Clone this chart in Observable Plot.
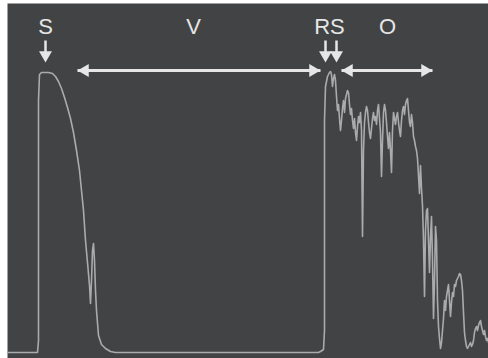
<!DOCTYPE html>
<html>
<head>
<meta charset="utf-8">
<script src="https://cdn.jsdelivr.net/npm/d3@7"></script>
<script src="https://cdn.jsdelivr.net/npm/@observablehq/plot@0.6"></script>
<style>
  html, body { margin: 0; padding: 0; background: #ffffff; }
  #chart svg { display: block; }
</style>
</head>
<body>
<div id="chart"></div>
<script>
// Signal trace: time (arbitrary units) and amplitude (arbitrary units)
const time = [
  0, 30, 31, 31, 32, 34, 41, 45, 48, 51, 54, 57, 60, 63, 66, 69, 72, 74, 76, 78,
  80, 82, 83, 84, 85, 86, 87, 88, 89, 91, 94, 98, 103, 108, 311, 313, 316, 317, 317, 318,
  320, 322, 323, 324, 325, 326, 327, 328, 329, 330, 331, 332, 333, 334, 335, 336, 337, 338, 339, 340,
  341, 342, 343, 344, 345, 346, 347, 348, 349, 350, 351, 352, 353, 354, 355, 356, 357, 358, 359, 360,
  361, 362, 363, 364, 365, 366, 367, 368, 369, 370, 371, 372, 373, 374, 375, 376, 377, 378, 379, 380,
  381, 382, 383, 384, 385, 386, 387, 388, 389, 390, 391, 392, 393, 394, 395, 396, 397, 398, 399, 400,
  401, 402, 403, 404, 405, 406, 407, 408, 409, 410, 411, 412, 413, 414, 415, 416, 417, 418, 419, 420,
  421, 422, 423, 424, 425, 426, 427, 428, 429, 430, 431, 432, 433, 434, 435, 436, 437, 438, 439, 440,
  441, 442, 443, 444, 445, 446, 447, 448, 449, 450, 451, 452, 453, 454, 455, 456, 457, 458, 459, 460,
  461, 462, 463, 464, 465, 466, 467, 468, 469, 470, 471, 472, 473, 474, 475, 476, 477, 478, 479, 480, 481
];
const amplitude = [
  0, 0, 12, 252, 278, 280, 280, 279, 276, 271, 264, 255, 245, 234, 220, 202, 182, 162, 142, 112,
  90, 67, 49, 72, 102, 109, 92, 62, 42, 17, 8, 4, 1, 0, 0, 1, 3, 22, 232, 266,
  276, 280, 281, 278, 266, 274, 278, 272, 256, 242, 248, 234, 222, 232, 244, 252, 240, 254, 258, 262,
  260, 248, 238, 244, 232, 224, 234, 220, 212, 226, 236, 230, 240, 222, 116, 202, 230, 240, 246, 242,
  230, 220, 214, 224, 234, 240, 232, 236, 228, 242, 248, 234, 220, 176, 212, 240, 248, 242, 230, 216,
  204, 220, 202, 180, 222, 240, 234, 228, 236, 240, 230, 222, 216, 232, 242, 246, 238, 248, 252, 254,
  242, 230, 226, 238, 230, 216, 212, 206, 202, 194, 177, 159, 187, 164, 147, 112, 56, 122, 142, 144,
  112, 80, 116, 136, 92, 34, 72, 126, 112, 52, 26, 14, 4, 10, 22, 34, 52, 42, 56, 62,
  68, 52, 36, 50, 60, 56, 68, 66, 72, 74, 76, 79, 78, 72, 62, 40, 20, 12, 6, 4,
  6, 8, 10, 6, 8, 12, 20, 24, 26, 22, 27, 30, 32, 26, 22, 18, 22, 16, 12, 14, 10
];

// Annotations
const labelText = ["S", "V", "RS", "O"];
const labelTime = [38, 186, 322, 380];
const labelLevel = 326;

const downArrowTime = [38, 318, 329];
const downArrowTop = 312;
const downArrowStemEnd = 298;
const downArrowTip = 290;

const spanName = ["V", "O"];
const spanStart = [70, 334];
const spanEnd = [313, 425];
const spanLevel = 282;

const signal = time.map((t, i) => ({t, a: amplitude[i]}));
const labels = labelText.map((s, i) => ({s, t: labelTime[i], a: labelLevel}));
const downs = downArrowTime.map(t => ({t, a1: downArrowTop, a2: downArrowStemEnd, tip: downArrowTip}));
const spans = spanName.map((n, i) => ({n, t1: spanStart[i], t2: spanEnd[i], a: spanLevel}));

const ink = "#e6e6e6";
const head = 4.8;   // triangle head "radius"
const off = 7.5;    // centroid offset from tip (px)

const chart = Plot.plot({
  width: 488,
  height: 358,
  marginLeft: 7,
  marginRight: 0,
  marginTop: 3,
  marginBottom: 0,
  x: {domain: [0, 481], axis: null},
  y: {domain: [-6, 349], axis: null},
  style: {background: "#ffffff"},
  marks: [
    Plot.frame({fill: "#424345", stroke: null}),
    Plot.line(signal, {x: "t", y: "a", stroke: "#ababad", strokeWidth: 1.6, strokeLinejoin: "round", curve: "linear"}),
    // horizontal double arrows
    Plot.link(spans, {x1: "t1", x2: "t2", y1: "a", y2: "a", stroke: ink, strokeWidth: 3}),
    Plot.dot(spans, {x: "t1", y: "a", symbol: "triangle", r: head, rotate: -90, fill: ink, stroke: null, dx: off}),
    Plot.dot(spans, {x: "t2", y: "a", symbol: "triangle", r: head, rotate: 90, fill: ink, stroke: null, dx: -off}),
    // down arrows
    Plot.link(downs, {x1: "t", x2: "t", y1: "a1", y2: "a2", stroke: ink, strokeWidth: 2.5}),
    Plot.dot(downs, {x: "t", y: "tip", symbol: "triangle", r: head, rotate: 180, fill: ink, stroke: null, dy: -off}),
    // labels
    Plot.text(labels, {x: "t", y: "a", text: "s", fill: ink, fontSize: 22, fontFamily: "Liberation Sans, Arial, Helvetica, sans-serif"})
  ]
});

document.getElementById("chart").appendChild(chart);
</script>
</body>
</html>
